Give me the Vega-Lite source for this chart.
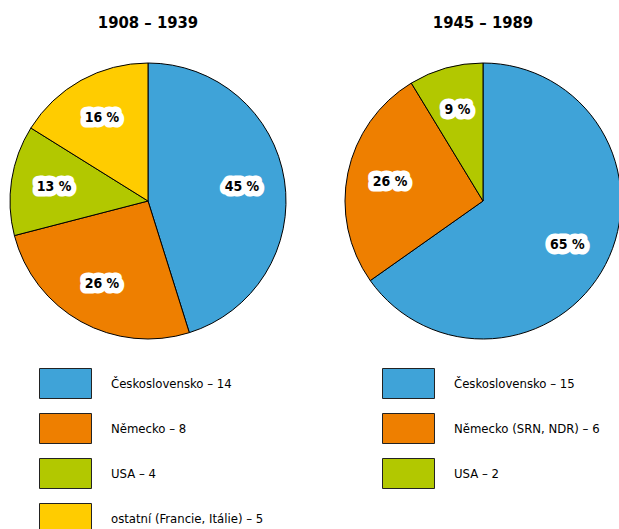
{
  "$schema": "https://vega.github.io/schema/vega-lite/v6.json",
  "padding": {"left": 0, "top": 14, "right": 0, "bottom": 0},
  "background": "white",
  "config": {
    "view": {"stroke": null},
    "font": "DejaVu Sans Condensed, Liberation Sans Narrow, Roboto Condensed, Liberation Sans, sans-serif",
    "concat": {"spacing": 47},
    "title": {"fontSize": 16.5, "fontWeight": "bold", "color": "black", "anchor": "middle", "frame": "group", "offset": 22, "baseline": "alphabetic", "font": "DejaVu Sans Condensed, Liberation Sans Narrow, Roboto Condensed, Liberation Sans, sans-serif"},
    "legend": {
      "symbolType": "M-1.733,-1H1.733V1H-1.733Z",
      "symbolSize": 900,
      "symbolStrokeColor": "#222222",
      "symbolStrokeWidth": 1,
      "symbolOpacity": 1,
      "labelFont": "DejaVu Sans Condensed, Liberation Sans Narrow, Roboto Condensed, Liberation Sans, sans-serif",
      "labelFontSize": 13,
      "labelColor": "black",
      "labelOffset": 30,
      "labelLimit": 300,
      "rowPadding": 10,
      "padding": 0
    }
  },
  "datasets": {
    "a": [
      {"label": "Československo – 14", "count": 14, "pct": "45 %", "i": 1},
      {"label": "Německo – 8", "count": 8, "pct": "26 %", "i": 2},
      {"label": "USA – 4", "count": 4, "pct": "13 %", "i": 3},
      {"label": "ostatní (Francie, Itálie) – 5", "count": 5, "pct": "16 %", "i": 4}
    ],
    "b": [
      {"label": "Československo – 15", "count": 15, "pct": "65 %", "i": 1},
      {"label": "Německo (SRN, NDR) – 6", "count": 6, "pct": "26 %", "i": 2},
      {"label": "USA – 2", "count": 2, "pct": "9 %", "i": 3}
    ]
  },
  "hconcat": [
    {
      "width": 296,
      "height": 296,
      "title": {"text": "1908 – 1939"},
      "data": {"name": "a"},
      "encoding": {
        "theta": {"field": "count", "type": "quantitative", "stack": true},
        "order": {"field": "i", "type": "quantitative"}
      },
      "layer": [
        {
          "mark": {"type": "arc", "outerRadius": 138, "stroke": "black", "strokeWidth": 1},
          "encoding": {
            "color": {"field": "label", "type": "nominal", "sort": null,
              "scale": {"range": ["#3fa3d8", "#ee7f00", "#b2c800", "#ffcc00"]},
              "legend": {"orient": "none", "legendX": 50, "legendY": 315, "title": null}}
          }
        },
        {
          "mark": {"type": "text", "radius": 95, "fill": "white", "stroke": "white", "strokeWidth": 11, "strokeJoin": "round", "fontSize": 14, "fontWeight": "bold"},
          "encoding": {"text": {"field": "pct"}, "detail": {"field": "label"}}
        },
        {
          "mark": {"type": "text", "radius": 95, "fill": "black", "fontSize": 14, "fontWeight": "bold"},
          "encoding": {"text": {"field": "pct"}, "detail": {"field": "label"}}
        }
      ]
    },
    {
      "width": 276,
      "height": 296,
      "title": {"text": "1945 – 1989"},
      "data": {"name": "b"},
      "encoding": {
        "theta": {"field": "count", "type": "quantitative", "stack": true},
        "order": {"field": "i", "type": "quantitative"}
      },
      "layer": [
        {
          "mark": {"type": "arc", "outerRadius": 138, "stroke": "black", "strokeWidth": 1},
          "encoding": {
            "color": {"field": "label", "type": "nominal", "sort": null,
              "scale": {"range": ["#3fa3d8", "#ee7f00", "#b2c800"]},
              "legend": {"orient": "none", "legendX": 48, "legendY": 315, "title": null}}
          }
        },
        {
          "mark": {"type": "text", "radius": 95, "fill": "white", "stroke": "white", "strokeWidth": 11, "strokeJoin": "round", "fontSize": 14, "fontWeight": "bold"},
          "encoding": {"text": {"field": "pct"}, "detail": {"field": "label"}}
        },
        {
          "mark": {"type": "text", "radius": 95, "fill": "black", "fontSize": 14, "fontWeight": "bold"},
          "encoding": {"text": {"field": "pct"}, "detail": {"field": "label"}}
        }
      ]
    }
  ],
  "resolve": {"scale": {"color": "independent"}, "legend": {"color": "independent"}}
}
